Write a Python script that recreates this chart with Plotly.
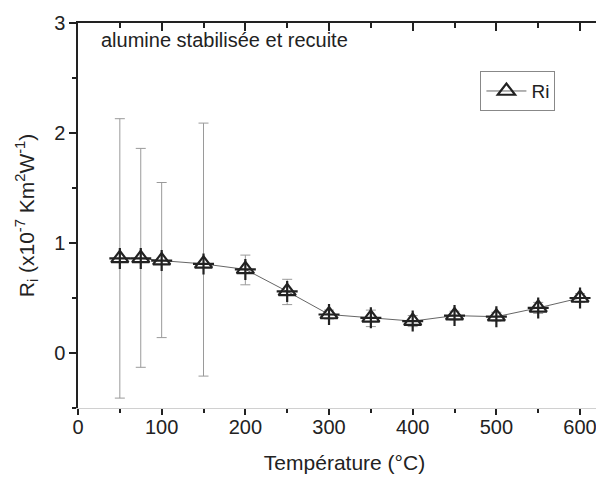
import plotly.graph_objects as go

temperature = [50, 75, 100, 150, 200, 250, 300, 350, 400, 450, 500, 550, 600]
ri_values = [0.86, 0.86, 0.84, 0.81, 0.76, 0.56, 0.35, 0.32, 0.29, 0.34, 0.33, 0.41, 0.50]
err_plus = [1.27, 1.00, 0.71, 1.28, 0.13, 0.11, 0.04, 0.07, 0.05, 0.04, 0.04, 0.05, 0.04]
err_minus = [1.27, 0.99, 0.70, 1.02, 0.14, 0.12, 0.04, 0.08, 0.05, 0.04, 0.04, 0.05, 0.04]
x_major = [0, 100, 200, 300, 400, 500, 600]
x_minor = [50, 150, 250, 350, 450, 550]
y_major = [0, 1, 2, 3]
y_minor = [-0.5, 0.5, 1.5, 2.5]

FONT = "Liberation Sans, Arial, sans-serif"
INK = "#222222"

fig = go.Figure()
fig.add_trace(go.Scatter(
    x=temperature, y=ri_values, mode="lines+markers", name="Ri",
    line=dict(color="#666666", width=1),
    marker=dict(symbol="triangle-up-open", size=15, color=INK, line=dict(width=2.2, color=INK)),
    error_y=dict(type="data", symmetric=False, array=err_plus, arrayminus=err_minus,
                 color="#9a9a9a", thickness=1, width=5),
))
fig.add_trace(go.Scatter(
    x=temperature, y=ri_values, mode="markers", showlegend=False, hoverinfo="skip",
    marker=dict(symbol="cross-thin-open", size=15, color=INK, line=dict(width=2.2, color=INK)),
))

axis_common = dict(showgrid=False, zeroline=False, ticks="outside", tickcolor=INK,
                   tickfont=dict(family=FONT, size=20, color=INK))

fig.update_layout(
    width=604, height=477,
    margin=dict(l=70, r=1, t=15, b=77),
    paper_bgcolor="white", plot_bgcolor="white",
    font=dict(family=FONT, color=INK),
    xaxis=dict(range=[0, 637], tickvals=x_major, ticklen=6, tickwidth=1.5,
               minor=dict(tickvals=x_minor, ticklen=4, tickwidth=1.5, ticks="outside", tickcolor=INK),
               showline=True, linecolor="#d0d0d0", linewidth=1, ticklabelstandoff=-5,
               title=dict(text="Température (°C)", font=dict(family=FONT, size=21, color=INK), standoff=18),
               **axis_common),
    yaxis=dict(range=[-0.5, 3], tickvals=y_major, ticklen=7, tickwidth=1.5,
               minor=dict(tickvals=y_minor, ticklen=4, tickwidth=1.5, ticks="outside", tickcolor=INK),
               showline=True, linecolor=INK, linewidth=1.5,
               title=dict(text="R<sub>i</sub> (x10<sup>-7</sup> Km<sup>2</sup>W<sup>-1</sup>)",
                          font=dict(family=FONT, size=21, color=INK), standoff=14),
               **axis_common),
    xaxis2=dict(range=[0, 637], overlaying="x", side="top",
                tickvals=x_major, showticklabels=False, ticks="inside", ticklen=8, tickwidth=1.5, tickcolor=INK,
                minor=dict(tickvals=x_minor, ticklen=5, tickwidth=1.5, ticks="inside", tickcolor=INK),
                showline=True, linecolor=INK, linewidth=1.5, showgrid=False, zeroline=False),
    yaxis2=dict(range=[-0.5, 3], overlaying="y", side="right",
                tickvals=y_major, showticklabels=False, ticks="inside", ticklen=5, tickwidth=1.5, tickcolor=INK,
                minor=dict(tickvals=y_minor, ticklen=3, tickwidth=1.5, ticks="inside", tickcolor=INK),
                showline=False, showgrid=False, zeroline=False),
    legend=dict(x=0.755, y=0.875, xanchor="left", yanchor="top",
                bgcolor="white", bordercolor="#888888", borderwidth=1,
                font=dict(family=FONT, size=19, color=INK),
                itemwidth=40, tracegroupgap=0),
    annotations=[dict(text="alumine stabilisée et recuite", x=0.04, y=0.955,
                      xref="paper", yref="paper", xanchor="left", yanchor="middle",
                      showarrow=False, font=dict(family=FONT, size=20, color=INK))],
    showlegend=True,
)
fig.add_trace(go.Scatter(x=[None], y=[None], xaxis="x2", yaxis="y2", showlegend=False, hoverinfo="skip"))

fig.write_html("out.html")
